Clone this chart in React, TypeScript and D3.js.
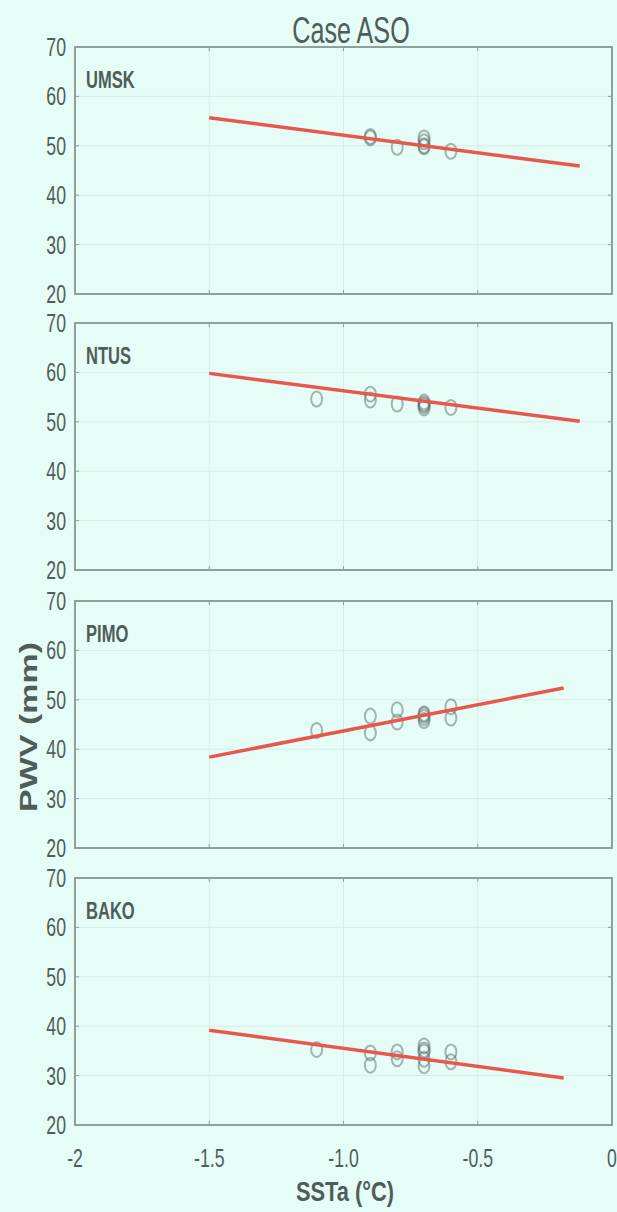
import React from "react";
import * as d3 from "d3";

const W = 617;
const H = 1212;

const title = "Case ASO";
const xLabel = "SSTa (°C)";
const yLabel = "PWV (mm)";
const stations = ["UMSK", "NTUS", "PIMO", "BAKO"];
const xTicks = [-2, -1.5, -1.0, -0.5, 0];
const xTickLabels = ["-2", "-1.5", "-1.0", "-0.5", "0"];
const yTicks = [20, 30, 40, 50, 60, 70];

// scatter points [SSTa, PWV]
const umskPts: [number, number][] = [
  [-0.9, 51.6], [-0.9, 51.9], [-0.8, 49.7], [-0.7, 51.6], [-0.7, 50.8], [-0.7, 50.0], [-0.7, 49.8], [-0.6, 48.9],
];
const ntusPts: [number, number][] = [
  [-1.1, 54.6], [-0.9, 55.6], [-0.9, 54.4], [-0.8, 53.6], [-0.7, 54.0], [-0.7, 53.3], [-0.7, 52.8], [-0.7, 53.6], [-0.6, 52.9],
];
const pimoPts: [number, number][] = [
  [-1.1, 43.8], [-0.9, 46.7], [-0.9, 43.3], [-0.8, 48.0], [-0.8, 45.5], [-0.7, 47.2], [-0.7, 46.4], [-0.7, 45.8], [-0.7, 46.9], [-0.6, 48.6], [-0.6, 46.3],
];
const bakoPts: [number, number][] = [
  [-1.1, 35.3], [-0.9, 34.6], [-0.9, 32.1], [-0.8, 34.8], [-0.8, 33.4], [-0.7, 36.0], [-0.7, 34.8], [-0.7, 33.3], [-0.7, 32.0], [-0.7, 35.2], [-0.6, 34.8], [-0.6, 32.8],
];
const allPts = [umskPts, ntusPts, pimoPts, bakoPts];

// regression line endpoints [x0, y0, x1, y1]
const fitLines: [number, number, number, number][] = [
  [-1.5, 55.7, -0.12, 45.9],
  [-1.5, 59.8, -0.12, 50.1],
  [-1.5, 38.4, -0.18, 52.4],
  [-1.5, 39.2, -0.18, 29.5],
];

const panelTops = [47, 323, 601, 878];
const panelH = 247;
const left = 75;
const right = 612;

const FONT = "'Liberation Sans', Arial, sans-serif";
const TXT = "#4f5d59";
const AX = "#8fa09b";
const GRID = "#d6ece6";
const SX = 0.68;

export default function App() {
  const x = d3.scaleLinear().domain([-2, 0]).range([left, right]);
  return (
    <div style={{ position: "absolute", left: 0, top: 0 }}>
      <svg width={W} height={H} style={{ display: "block", background: "#e6fcf6" }}>
        <rect x={0} y={0} width={W} height={H} fill="#e6fcf6" />
        <text transform={`translate(351,43) scale(${SX},1)`} textAnchor="middle" fontFamily={FONT} fontSize={37} fill={TXT}>
          {title}
        </text>
        {stations.map((name, i) => {
          const top = panelTops[i];
          const y = d3.scaleLinear().domain([20, 70]).range([top + panelH, top]);
          const line = d3.line<[number, number]>().x((d) => x(d[0])).y((d) => y(d[1]));
          const f = fitLines[i];
          return (
            <g key={name}>
              {xTicks.slice(1, -1).map((t) => (
                <line key={"gx" + t} x1={x(t)} x2={x(t)} y1={top} y2={top + panelH} stroke={GRID} strokeWidth={1} />
              ))}
              {yTicks.slice(1, -1).map((t) => (
                <line key={"gy" + t} x1={left} x2={right} y1={y(t)} y2={y(t)} stroke={GRID} strokeWidth={1} />
              ))}
              {allPts[i].map((p, j) => (
                <ellipse key={j} cx={x(p[0])} cy={y(p[1])} rx={5.5} ry={7.5} fill="none" stroke="#5c6e69" strokeOpacity={0.5} strokeWidth={2} />
              ))}
              <path d={line([[f[0], f[1]], [f[2], f[3]]]) || ""} stroke="#e8574f" strokeWidth={3.5} fill="none" />
              <rect x={left} y={top} width={right - left} height={panelH} fill="none" stroke={AX} strokeWidth={2} />
              {yTicks.map((t) => (
                <g key={"yt" + t}>
                  <line x1={left} x2={left + 4} y1={y(t)} y2={y(t)} stroke={AX} strokeWidth={1} />
                  <line x1={right} x2={right - 4} y1={y(t)} y2={y(t)} stroke={AX} strokeWidth={1} />
                  <text transform={`translate(${left - 9},${y(t) + 9}) scale(${SX},1)`} textAnchor="end" fontFamily={FONT} fontSize={26} fill={TXT}>
                    {t}
                  </text>
                </g>
              ))}
              {xTicks.map((t) => (
                <g key={"xt" + t}>
                  <line x1={x(t)} x2={x(t)} y1={top + panelH} y2={top + panelH - 4} stroke={AX} strokeWidth={1} />
                  <line x1={x(t)} x2={x(t)} y1={top} y2={top + 4} stroke={AX} strokeWidth={1} />
                </g>
              ))}
              <text transform={`translate(86,${top + 41}) scale(0.72,1)`} fontFamily={FONT} fontSize={23} fontWeight="bold" fill={TXT}>
                {name}
              </text>
            </g>
          );
        })}
        {xTicks.map((t, k) => (
          <text key={"xl" + t} transform={`translate(${x(t)},1167) scale(${SX},1)`} textAnchor="middle" fontFamily={FONT} fontSize={26} fill={TXT}>
            {xTickLabels[k]}
          </text>
        ))}
        <text transform="translate(345,1201) scale(0.78,1)" textAnchor="middle" fontFamily={FONT} fontSize={28} fontWeight="bold" fill={TXT}>
          {xLabel}
        </text>
        <text transform="translate(37,727) rotate(-90) scale(1,0.72)" textAnchor="middle" fontFamily={FONT} fontSize={34} fontWeight="bold" fill={TXT}>
          {yLabel}
        </text>
      </svg>
    </div>
  );
}
